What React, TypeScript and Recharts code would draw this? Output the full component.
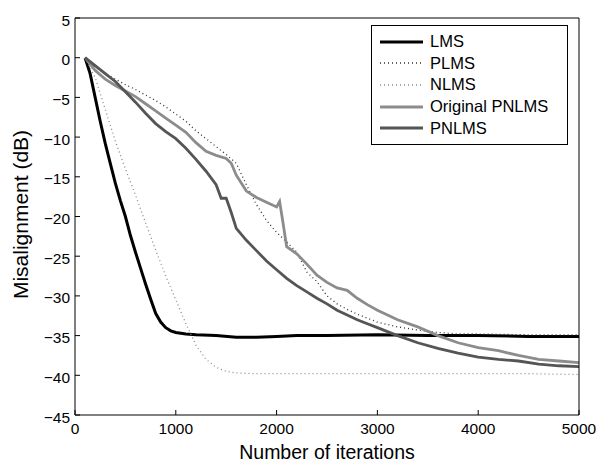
import { LineChart, Line, XAxis, YAxis, Legend } from "recharts";

const FONT = '"Liberation Sans", Arial, Helvetica, sans-serif';

// iterations / misalignment (dB)
const lmsIter = [100, 150, 200, 250, 300, 350, 400, 450, 500, 550, 600, 650, 700, 750, 800, 850, 900, 950, 1000, 1100, 1200, 1400, 1600, 1800, 2000, 2200, 2500, 3000, 3500, 4000, 4500, 5000];
const lmsDb = [0, -2, -5, -8, -10.8, -13.3, -15.8, -18, -20, -22.4, -24.5, -26.5, -28.5, -30.4, -32.2, -33.3, -34, -34.4, -34.6, -34.8, -34.9, -35, -35.2, -35.2, -35.1, -35, -35, -34.9, -35, -35, -35.1, -35.1];

const plmsIter = [100, 200, 300, 400, 500, 600, 700, 800, 900, 1000, 1100, 1200, 1300, 1400, 1500, 1600, 1700, 1800, 1900, 2000, 2100, 2200, 2300, 2400, 2500, 2600, 2700, 2800, 2900, 3000, 3200, 3400, 3600, 3800, 4000, 4500, 5000];
const plmsDb = [0, -1.2, -2, -2.7, -3.4, -4, -4.7, -5.4, -6.2, -7.1, -8, -9.2, -10.2, -11.2, -12.2, -13.3, -16, -18.5, -20.5, -22, -23.2, -24.5, -27, -28.2, -30, -31, -31.7, -32.3, -32.8, -33.3, -33.9, -34.3, -34.6, -34.8, -34.8, -34.9, -34.9];

const nlmsIter = [100, 200, 300, 400, 500, 600, 700, 800, 900, 1000, 1100, 1200, 1300, 1400, 1500, 1600, 1800, 2000, 2500, 3000, 3500, 4000, 4500, 5000];
const nlmsDb = [0, -2.5, -6.5, -10.5, -14, -17.3, -20.8, -24.2, -27.5, -30.5, -33.5, -36.2, -38, -39, -39.5, -39.7, -39.8, -39.8, -39.8, -39.8, -39.8, -39.8, -39.8, -39.9];

const origIter = [100, 200, 300, 400, 500, 600, 700, 800, 900, 1000, 1100, 1200, 1300, 1400, 1500, 1550, 1600, 1700, 1800, 1900, 2000, 2030, 2060, 2100, 2200, 2300, 2400, 2500, 2600, 2700, 2800, 2900, 3000, 3200, 3400, 3600, 3800, 4000, 4200, 4400, 4600, 4800, 5000];
const origDb = [0, -1.6, -2.7, -3.5, -4.2, -4.9, -5.8, -6.7, -7.6, -8.5, -9.4, -10.7, -11.8, -12.3, -12.7, -13.3, -14.8, -16.8, -17.6, -18.2, -18.8, -18.1, -20.5, -23.8, -24.7, -26, -27.4, -28.3, -29, -29.3, -30.3, -31.1, -31.8, -33, -33.9, -35, -35.9, -36.5, -36.9, -37.5, -38, -38.2, -38.4];

const pnlmsIter = [100, 200, 300, 400, 500, 600, 700, 800, 900, 1000, 1100, 1200, 1300, 1400, 1450, 1500, 1550, 1600, 1700, 1800, 1900, 2000, 2100, 2200, 2300, 2400, 2500, 2600, 2700, 2800, 2900, 3000, 3200, 3400, 3600, 3800, 4000, 4200, 4400, 4600, 4800, 5000];
const pnlmsDb = [0, -1, -2, -3, -4.3, -5.6, -7, -8.3, -9.3, -10.2, -11.4, -12.8, -14.3, -16, -17.7, -17.7, -19.5, -21.5, -23, -24.3, -25.6, -26.7, -27.8, -28.7, -29.5, -30.3, -31, -31.8, -32.4, -33, -33.5, -34, -35, -35.9, -36.6, -37.2, -37.7, -38, -38.2, -38.6, -38.8, -38.9];

const xTicks = [0, 1000, 2000, 3000, 4000, 5000];
const yTicks = [-45, -40, -35, -30, -25, -20, -15, -10, -5, 0, 5];

const pts = (xs: number[], ys: number[]) => xs.map((x, i) => ({ x, y: ys[i] }));

const series = [
  { name: "LMS", data: pts(lmsIter, lmsDb), color: "#000000", width: 3, dash: undefined },
  { name: "PLMS", data: pts(plmsIter, plmsDb), color: "#333333", width: 1.3, dash: "1 3" },
  { name: "NLMS", data: pts(nlmsIter, nlmsDb), color: "#8a8a8a", width: 1.3, dash: "1 3" },
  { name: "Original PNLMS", data: pts(origIter, origDb), color: "#8c8c8c", width: 2.8, dash: undefined },
  { name: "PNLMS", data: pts(pnlmsIter, pnlmsDb), color: "#555555", width: 2.8, dash: undefined },
];

const minus = (v: number) => String(v).replace("-", "\u2212");

const LegendBox = () => (
  <div
    style={{
      border: "1px solid #000",
      background: "#fff",
      width: 195,
      padding: "5px 0",
      fontFamily: FONT,
      fontSize: 16.5,
      color: "#000",
      boxSizing: "content-box",
    }}
  >
    {series.map((s) => (
      <div key={s.name} style={{ display: "flex", alignItems: "center", height: 21.6 }}>
        <svg width={52} height={10} style={{ flex: "none" }}>
          <line x1={8} x2={51} y1={5} y2={5} stroke={s.color} strokeWidth={s.width} strokeDasharray={s.dash} />
        </svg>
        <span style={{ marginLeft: 6, whiteSpace: "nowrap" }}>{s.name}</span>
      </div>
    ))}
  </div>
);

export default function App() {
  const tickStyle = { fill: "#000", fontSize: 15.5, fontFamily: FONT };
  return (
    <div style={{ position: "absolute", left: 0, top: 0, background: "#fff" }}>
      <LineChart width={602} height={463} margin={{ top: 17, right: 22, bottom: 0, left: 0 }}>
        <XAxis
          xAxisId="b"
          type="number"
          dataKey="x"
          domain={[0, 5000]}
          ticks={xTicks}
          height={48}
          tickSize={-5}
          tickMargin={13}
          stroke="#000"
          tick={tickStyle}
          allowDataOverflow
          label={{
            content: ({ viewBox }: any) => (
              <text
                x={viewBox.x + viewBox.width / 2}
                y={viewBox.y + 44}
                textAnchor="middle"
                fontFamily={FONT}
                fontSize={19.5}
                fill="#000"
              >
                Number of iterations
              </text>
            ),
          }}
        />
        <XAxis
          xAxisId="t"
          orientation="top"
          type="number"
          dataKey="x"
          domain={[0, 5000]}
          ticks={xTicks}
          height={1}
          tickSize={-5}
          tick={false}
          stroke="#000"
        />
        <YAxis
          yAxisId="l"
          type="number"
          domain={[-45, 5]}
          ticks={yTicks}
          width={75}
          tickSize={-5}
          tickMargin={10}
          stroke="#000"
          tick={{ ...tickStyle, dy: 2 }}
          tickFormatter={minus}
          allowDataOverflow
          label={{
            content: ({ viewBox }: any) => {
              const cx = viewBox.x + 28;
              const cy = viewBox.y + viewBox.height / 2 - 2;
              return (
                <text
                  x={cx}
                  y={cy}
                  transform={`rotate(-90, ${cx}, ${cy})`}
                  textAnchor="middle"
                  fontFamily={FONT}
                  fontSize={21}
                  fill="#000"
                >
                  Misalignment (dB)
                </text>
              );
            },
          }}
        />
        <YAxis
          yAxisId="r"
          orientation="right"
          type="number"
          domain={[-45, 5]}
          ticks={yTicks}
          width={1}
          tickSize={-5}
          tick={false}
          stroke="#000"
        />
        {series.map((s) => (
          <Line
            key={s.name}
            xAxisId="b"
            yAxisId="l"
            data={s.data}
            dataKey="y"
            name={s.name}
            type="linear"
            stroke={s.color}
            strokeWidth={s.width}
            strokeDasharray={s.dash}
            dot={false}
            activeDot={false}
            isAnimationActive={false}
          />
        ))}
        <Legend
          layout="vertical"
          align="center"
          verticalAlign="middle"
          content={() => <LegendBox />}
          wrapperStyle={{ position: "absolute", left: 371, top: 25, width: "auto", height: "auto" }}
        />
      </LineChart>
    </div>
  );
}
